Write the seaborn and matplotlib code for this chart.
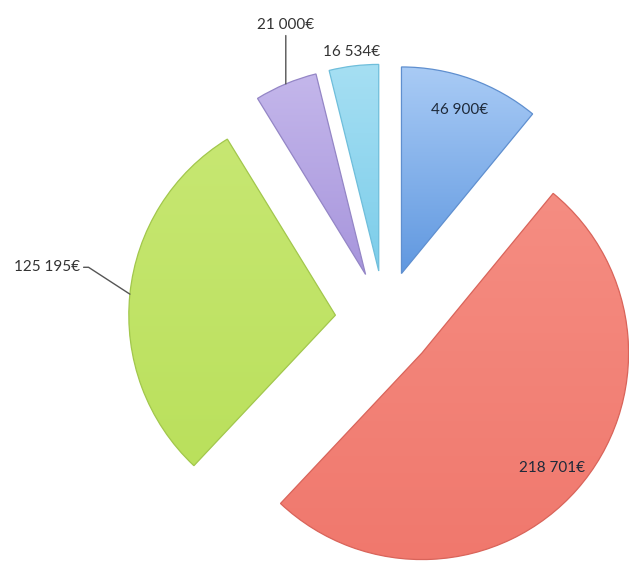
import numpy as np
import matplotlib
matplotlib.use("Agg")
import matplotlib.pyplot as plt
from matplotlib.colors import LinearSegmentedColormap
import seaborn as sns

# data (clockwise from 12 o'clock)
amounts = [46900, 218701, 125195, 21000, 16534]
amount_labels = ["46 900€", "218 701€", "125 195€", "21 000€", "16 534€"]
top_colors = ["#a9cbf5", "#f58d82", "#c7e772", "#c4b7eb", "#a6dff3"]
bottom_colors = ["#6098e0", "#f0786d", "#bae05c", "#a795dc", "#7ccdea"]
edge_colors = ["#5f8fcf", "#d9645a", "#a2c74c", "#9486c6", "#6fbedb"]

sns.set_theme(style="white")
plt.rcParams["font.family"] = ["Lato", "DejaVu Sans"]

fig = plt.figure(figsize=(6.29, 5.64), dpi=100)
ax = fig.add_axes([0, 0, 1, 1])

wedges, _ = ax.pie(
    amounts,
    colors=bottom_colors,
    startangle=90,
    counterclock=False,
    explode=[0.24] * len(amounts),
    radius=1.0,
    wedgeprops=dict(linewidth=0.9, zorder=3),
)

# soft vertical gradient inside each slice, like the original glossy fill
grad = np.linspace(0, 1, 256).reshape(-1, 1)
for w, top, bot, ec in zip(wedges, top_colors, bottom_colors, edge_colors):
    w.set_edgecolor(ec)
    w.set_facecolor("none")
    verts = w.get_path().vertices
    x0, y0 = verts.min(axis=0)
    x1, y1 = verts.max(axis=0)
    cmap = LinearSegmentedColormap.from_list("g", [bot, top])
    im = ax.imshow(grad, cmap=cmap, extent=(x0, x1, y0, y1), origin="lower",
                   aspect="auto", zorder=2, interpolation="bilinear")
    im.set_clip_path(w)

ax.set_xlim(-1.86, 1.18)
ax.set_ylim(-1.18, 1.55)
ax.set_aspect("equal")
ax.axis("off")

# label placement: inside / outside / with leader line
for i, w in enumerate(wedges):
    mid = np.deg2rad((w.theta1 + w.theta2) / 2)
    cx, cy = w.center
    ux, uy = np.cos(mid), np.sin(mid)
    txt = amount_labels[i]
    if i in (0, 1):
        ax.text(cx + 0.84 * ux, cy + 0.84 * uy, txt, ha="center", va="center",
                fontsize=11, color="#1e2a3a", zorder=5)
    elif i == 4:
        ax.text(cx + 1.07 * ux, cy + 1.07 * uy, txt, ha="center", va="center",
                fontsize=11, color="#333333", zorder=5)
    elif i == 3:
        ex, ey = cx + ux, cy + uy
        ax.annotate(txt, xy=(ex, ey), xytext=(ex, ey + 0.25), ha="center", va="bottom",
                    fontsize=11, color="#333333", zorder=5,
                    arrowprops=dict(arrowstyle="-", color="#555555", lw=1.0,
                                    shrinkA=0, shrinkB=0, relpos=(0.5, 0)))
    else:
        ex, ey = cx + ux, cy + uy
        ax.annotate(txt, xy=(ex, ey), xytext=(ex - 0.24, ey + 0.13), ha="right", va="center",
                    fontsize=11, color="#333333", zorder=5,
                    arrowprops=dict(arrowstyle="-", color="#555555", lw=1.0,
                                    shrinkA=0, shrinkB=0, relpos=(1, 0.5),
                                    connectionstyle="angle,angleA=0,angleB=-33,rad=0"))

fig.savefig("out.png", dpi=100)
